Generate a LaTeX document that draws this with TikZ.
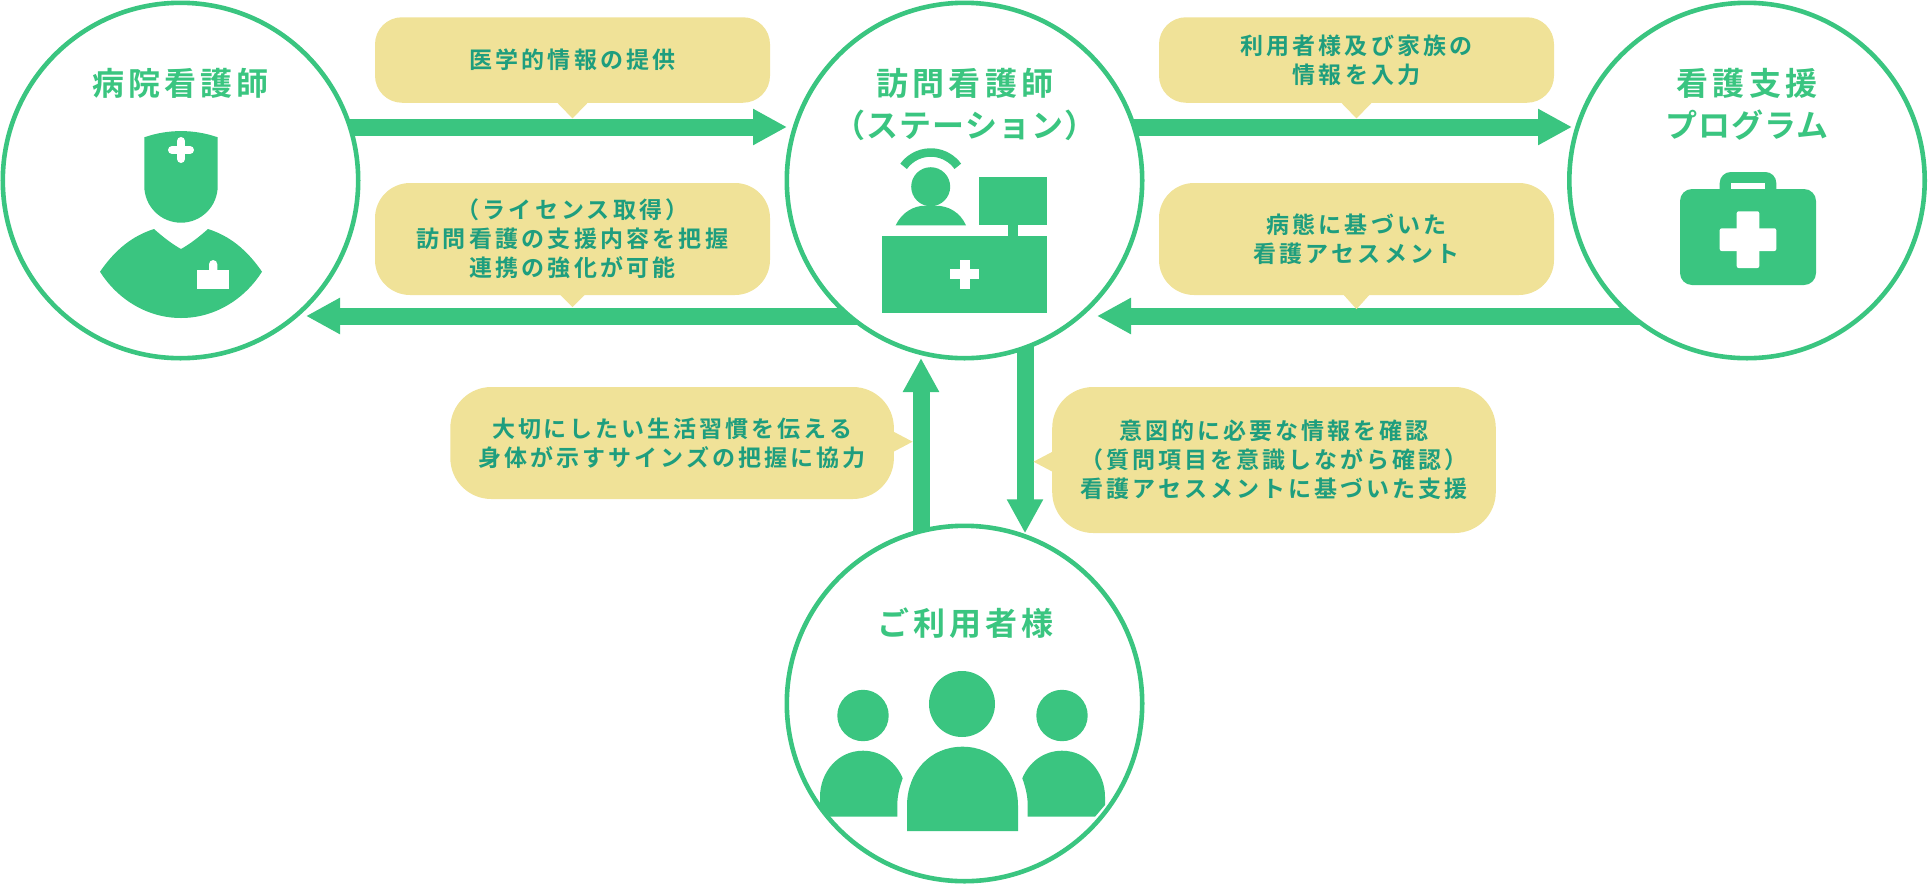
\documentclass[tikz,border=0pt]{standalone}
\usepackage{fontspec}
\usetikzlibrary{arrows.meta,backgrounds}
\newfontfamily\bubblefont[LetterSpace=14]{Noto Sans CJK JP Bold}
\newfontfamily\bubblelow[LetterSpace=13]{Noto Sans CJK JP Bold}
\newfontfamily\titlefont[LetterSpace=13]{Noto Sans CJK JP Bold}
\newfontfamily\titlekana[LetterSpace=3]{Noto Sans CJK JP Bold}
\definecolor{gr}{HTML}{3AC580}
\definecolor{yl}{HTML}{F0E298}
\definecolor{tx}{HTML}{1E9E7E}
\tikzset{
  ring/.style={circle,draw=gr,fill=white,line width=4.6pt,minimum size=355.4pt,inner sep=0pt},
  flow/.style={gr,line width=17pt,-{Triangle[length=34pt,width=34pt,sep=0pt]}},
  bub/.style={fill=yl,inner sep=0pt,align=center,text=tx,font=\bubblefont\fontsize{23}{29}\selectfont},
  bubS/.style={bub,rounded corners=27pt,minimum width=395pt,minimum height=85.5pt},
  bubM/.style={bub,rounded corners=35pt,minimum width=395pt,minimum height=112pt},
  bubL/.style={bub,rounded corners=41pt,minimum width=443.6pt,font=\bubblelow\fontsize{23}{29}\selectfont},
  ptr/.style={fill=yl},
  ttl/.style={text=gr,inner sep=0pt,font=\titlefont\fontsize{32}{42}\selectfont,align=center},
  ttlk/.style={ttl,font=\titlekana\fontsize{32}{42}\selectfont},
  ico/.style={fill=gr},
  hole/.style={fill=white},
}
\begin{document}
\begin{tikzpicture}[x=1pt,y=-1pt]
\useasboundingbox (0,0) rectangle (1928,884);
\node[ring] (hosp) at (180.5,180.5) {};
\node[ring] (visit) at (964.5,180.5) {};
\node[ring] (prog) at (1747,180.5) {};
\node[ring] (user) at (964.5,703.5) {};
\begin{scope}[on background layer]
\draw[flow] ([shift={(160,-53.5)}]hosp.center) -- ([shift={(-177.5,-53.5)}]visit.center);
\draw[flow] ([shift={(160,-53.5)}]visit.center) -- ([shift={(-175,-53.5)}]prog.center);
\draw[flow] ([shift={(-100,135.5)}]visit.center) -- ([shift={(125.5,135.5)}]hosp.center);
\draw[flow] ([shift={(-100,135.5)}]prog.center) -- ([shift={(132.5,135.5)}]visit.center);
\draw[flow] ([shift={(-43.5,-140)}]user.center) -- ([shift={(-43.5,177.5)}]visit.center);
\draw[flow] ([shift={(60.5,150)}]visit.center) -- ([shift={(60.5,-170.2)}]user.center);
\end{scope}
% bubbles
\node[bubS] (b1) at (572.5,60) {医学的情報の提供};
\node[bubS] (b2) at (1356.5,60) {利用者様及び家族の\\情報を入力};
\node[bubM] (b3) at (572.5,239) {（ライセンス取得）\\訪問看護の支援内容を把握\\連携の強化が可能};
\node[bubM] (b4) at (1356.5,239) {病態に基づいた\\看護アセスメント};
\node[bubL,minimum height=112pt] (b5) at (672.1,443) {大切にしたい生活習慣を伝える\\身体が示すサインズの把握に協力};
\node[bubL,minimum height=146pt] (b6) at (1274,460) {意図的に必要な情報を確認\\（質問項目を意識しながら確認）\\看護アセスメントに基づいた支援};
\fill[ptr] (b1.south) ++(-15.5,-0.5) -- ++(15.5,16) -- ++(15.5,-16) -- cycle;
\fill[ptr] (b2.south) ++(-15.5,-0.5) -- ++(15.5,16) -- ++(15.5,-16) -- cycle;
\fill[ptr] (b3.south) ++(-12.5,-0.5) -- ++(12.5,12.5) -- ++(12.5,-12.5) -- cycle;
\fill[ptr] (b4.south) ++(-13,-0.5) -- ++(13,14.5) -- ++(13,-14.5) -- cycle;
\fill[ptr] (b5.east) ++(-0.5,-11.3) -- ++(19,10) -- ++(-19,10) -- cycle;
\fill[ptr] (b6.west) ++(0.5,-8.3) -- ++(-19,10) -- ++(19,10) -- cycle;
% titles
\node[ttl] (t1) at (180.5,83) {病院看護師};
\node[ttl] (t2) at (965,83) {訪問看護師};
\node[ttlk] (t3) at (965,125) {（ステーション）};
\node[ttl] (t4) at (1747,83) {看護支援};
\node[ttlk] (t5) at (1747,125) {プログラム};
\node[ttl] (t6) at (965.5,623) {ご利用者様};
% nurse
\fill[ico] (144.3,137.3) .. controls (168,129) and (194,129) .. (217.7,137.3) -- (217.7,186) arc[start angle=0,end angle=180,radius=36.7] -- cycle;
\draw[white,line width=8pt,line cap=round] (172,150) -- (190,150) (181,141) -- (181,159);
\fill[ico] (100,271.7) .. controls (115,250) and (132,236) .. (154,229) .. controls (163,237) and (172,244) .. (181,249) .. controls (190,244) and (199,237) .. (208,229) .. controls (230,236) and (247,250) .. (262,271.7) .. controls (244,300) and (214,318) .. (181,318) .. controls (148,318) and (118,300) .. (100,271.7) -- cycle;
\fill[hole] (197,270) rectangle (229.3,288.7);
\fill[hole] (209,271) -- (209,264.2) arc[start angle=180,end angle=360,radius=4.15] -- (217.3,271) -- cycle;
% station
\draw[gr,line width=8.5pt] (930.7,186) ++(216:33.5) arc[start angle=216,end angle=324,radius=33.5];
\fill[ico] (930.7,186.7) circle[radius=19.5];
\fill[ico] (895.7,225.3) .. controls (902,212) and (914,205.7) .. (925,205.7) -- (936,205.7) .. controls (948,205.7) and (960,212) .. (966,225.3) -- cycle;
\fill[ico] (979,177) rectangle (1047,225);
\fill[ico] (1008,225) rectangle (1017.7,236);
\fill[ico] (882,235.7) rectangle (1047,312.7);
\fill[hole] (959.5,260) rectangle (969.5,288.7);
\fill[hole] (950,269.3) rectangle (979,279.3);
% kit
\fill[ico,rounded corners=12pt] (1680,189) rectangle (1816,285);
\fill[ico,rounded corners=11pt] (1719.7,172) rectangle (1776.3,200);
\fill[hole] (1731,183.3) rectangle (1765,189);
\fill[hole,rounded corners=2pt] (1736.7,211.3) rectangle (1759.3,268);
\fill[hole,rounded corners=2pt] (1719.7,228.3) rectangle (1776.3,251);
% users
\fill[ico] (962,704) circle[radius=33];
\fill[ico] (863,715.5) circle[radius=25.7];
\fill[ico] (1062,715.5) circle[radius=25.7];
\fill[ico] (907,831) -- (907,806) .. controls (907,772) and (930,746.7) .. (962.5,746.7) .. controls (995,746.7) and (1018,772) .. (1018,806) -- (1018,831) -- cycle;
\fill[ico] (820,805) -- (830,816.7) -- (897.3,816.7) -- (897.3,805) .. controls (897.3,796) and (899.5,787) .. (902.7,778.3) .. controls (896,762) and (881,750.7) .. (863,750.7) .. controls (838,750.7) and (820,772) .. (820,797) -- cycle;
\fill[ico] (1105,805) -- (1095,816.7) -- (1027.7,816.7) -- (1027.7,805) .. controls (1027.7,796) and (1025.5,787) .. (1022.3,778.3) .. controls (1029,762) and (1044,750.7) .. (1062,750.7) .. controls (1087,750.7) and (1105,772) .. (1105,797) -- cycle;
\end{tikzpicture}
\end{document}
